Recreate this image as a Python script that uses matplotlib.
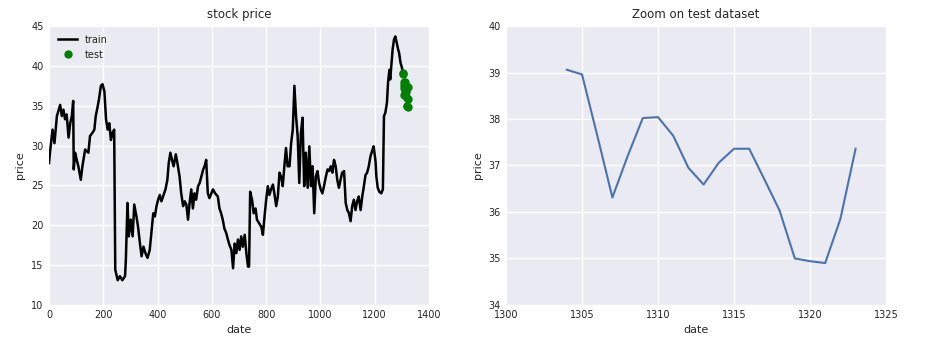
import matplotlib
matplotlib.use("Agg")
import matplotlib.pyplot as plt
import numpy as np

# train data
train_date = [0, 4, 13, 20, 29, 41, 47, 53, 59, 65, 72, 78, 84, 89, 91, 96, 102, 108, 117, 123,
              133, 145, 151, 160, 167, 172, 178, 184, 191, 197, 204, 210, 216, 222, 228, 234, 240,
              244, 253, 261, 270, 280, 283, 289, 294, 301, 308, 314, 322, 328, 335, 341, 348, 355,
              363, 371, 377, 384, 390, 396, 402, 408, 414, 420, 429, 436, 441, 447, 453, 459, 467,
              473, 481, 487, 494, 500, 506, 512, 518, 524, 530, 536, 542, 549, 555, 561, 568, 573,
              579, 585, 591, 598, 604, 612, 622, 628, 634, 640, 646, 653, 659, 665, 672, 678, 684,
              690, 696, 702, 708, 714, 721, 727, 733, 737, 741, 748, 754, 761, 766, 773, 782, 788,
              794, 800, 806, 812, 818, 825, 831, 837, 843, 849, 855, 861, 867, 873, 879, 886, 892,
              898, 904, 910, 916, 922, 928, 934, 940, 946, 953, 959, 965, 971, 977, 983, 989, 995,
              1001, 1007, 1013, 1020, 1026, 1032, 1038, 1044, 1050, 1056, 1062, 1068, 1074, 1080,
              1087, 1093, 1099, 1105, 1111, 1117, 1123, 1129, 1135, 1141, 1148, 1154, 1160, 1166,
              1172, 1178, 1184, 1190, 1196, 1203, 1206, 1211, 1217, 1224, 1230, 1234, 1239, 1245,
              1249, 1254, 1257, 1261, 1266, 1271, 1276, 1281, 1286, 1290, 1295, 1300, 1303]
train_price = [27.8, 29.3, 32.0, 30.3, 33.7, 35.1, 33.7, 34.5, 33.3, 33.9, 31.0, 32.8, 33.7, 35.6,
               27.0, 29.1, 28.2, 27.4, 25.7, 27.4, 29.5, 29.1, 31.2, 31.6, 32.0, 33.7, 34.7, 35.8,
               37.5, 37.7, 36.8, 33.3, 32.0, 32.8, 30.7, 31.6, 32.0, 14.4, 13.1, 13.6, 13.1, 13.6,
               15.6, 22.8, 18.6, 20.7, 18.6, 22.6, 21.1, 19.8, 17.7, 16.1, 17.3, 16.5, 15.9, 16.9,
               19.0, 21.5, 21.1, 22.4, 23.2, 23.8, 23.0, 23.6, 24.5, 25.7, 27.8, 29.1, 28.2, 27.4,
               28.9, 27.8, 26.1, 24.0, 22.4, 23.0, 22.6, 20.7, 22.8, 24.5, 22.1, 24.0, 23.2, 24.9,
               25.3, 26.1, 27.0, 27.4, 28.2, 24.0, 23.4, 24.0, 24.5, 24.0, 23.6, 22.1, 21.5, 20.7,
               19.6, 19.0, 18.2, 17.5, 16.9, 14.6, 17.7, 16.5, 18.2, 16.9, 18.6, 17.3, 18.8, 16.5,
               14.8, 14.8, 24.2, 23.2, 21.5, 22.1, 20.7, 20.3, 19.8, 18.8, 21.1, 23.2, 24.9, 23.8,
               24.5, 25.1, 23.8, 22.4, 23.6, 26.6, 26.1, 24.9, 27.4, 29.7, 27.4, 27.4, 30.3, 32.0,
               37.5, 33.7, 31.2, 25.3, 31.6, 33.5, 24.9, 29.1, 24.7, 29.9, 24.9, 27.4, 21.5, 26.1,
               26.8, 25.3, 24.5, 24.0, 24.9, 26.1, 27.0, 26.8, 27.4, 26.6, 28.2, 27.4, 25.7, 24.7,
               25.7, 26.6, 26.8, 22.8, 21.9, 21.5, 20.5, 22.4, 23.2, 21.9, 23.0, 23.6, 21.9, 23.6,
               24.9, 26.3, 26.6, 27.4, 28.6, 29.3, 29.9, 28.0, 26.1, 24.7, 24.2, 24.0, 24.5, 33.7,
               34.1, 35.4, 37.9, 39.5, 38.3, 40.0, 42.1, 43.3, 43.7, 42.9, 42.1, 41.6, 40.4, 39.8,
               39.2]

# test data
test_date = list(range(1304, 1324))
test_price = [39.06, 38.96, 37.65, 36.31, 37.2, 38.02, 38.04, 37.64, 36.95, 36.59,
              37.06, 37.36, 37.36, 36.7, 36.03, 35.0, 34.94, 34.9, 35.85, 37.36]

plt.rcParams['font.family'] = ['DejaVu Sans']
plt.rcParams['text.color'] = '.15'
plt.rcParams['axes.labelcolor'] = '.15'
plt.rcParams['xtick.color'] = '.15'
plt.rcParams['ytick.color'] = '.15'

fig, (ax1, ax2) = plt.subplots(1, 2, figsize=(9.34, 3.57), dpi=100)
fig.subplots_adjust(left=0.0525, right=0.9486, top=0.927, bottom=0.146, wspace=0.2026)

for ax in (ax1, ax2):
    ax.set_facecolor('#EAEAF2')
    ax.set_axisbelow(True)
    ax.grid(True, color='white', linewidth=1)
    for s in ax.spines.values():
        s.set_visible(False)
    ax.tick_params(length=0, labelsize=7, pad=4)
    ax.set_xlabel('date', fontsize=8, labelpad=3)
    ax.set_ylabel('price', fontsize=8, labelpad=4)

ax1.plot(train_date, train_price, color='black', linewidth=1.8, label='train')
ax1.plot(test_date, test_price, 'o', color='green', markersize=5, label='test')
ax1.set_xlim(0, 1400)
ax1.set_ylim(10, 45)
ax1.set_title('stock price', fontsize=8.5)
ax1.legend(loc='upper left', frameon=False, fontsize=7, numpoints=1)

ax2.plot(test_date, test_price, color='#4C72B0', linewidth=1.5)
ax2.set_xlim(1300, 1325)
ax2.set_ylim(34, 40)
ax2.set_title('Zoom on test dataset', fontsize=8.5)

fig.savefig('out.png', dpi=100)
